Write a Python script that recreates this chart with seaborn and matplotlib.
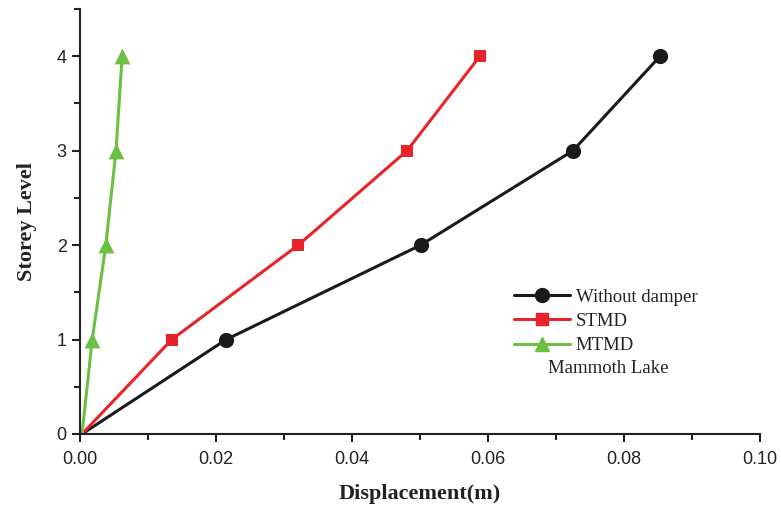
import matplotlib
matplotlib.use("Agg")
from matplotlib import pyplot as plt
from matplotlib.lines import Line2D
from matplotlib.ticker import MultipleLocator
import seaborn as sns
import pandas as pd

storeys = [0, 1, 2, 3, 4]
without_damper = [0.0003, 0.0215, 0.0501, 0.0725, 0.0853]
stmd = [0.0003, 0.0135, 0.0321, 0.0481, 0.0588]
mtmd = [0.0003, 0.0018, 0.0038, 0.0053, 0.0062]
cases = ["Without damper", "STMD", "MTMD"]
colors = {"Without damper": "#1a1a1a", "STMD": "#e8232a", "MTMD": "#6cbf45"}
markers = {"Without damper": "o", "STMD": "s", "MTMD": "^"}
msizes = {"Without damper": 120, "STMD": 80, "MTMD": 130}

rows = []
for name, vals in zip(cases, [without_damper, stmd, mtmd]):
    for s, v in zip(storeys, vals):
        rows.append({"disp": v, "storey": s, "case": name})
df = pd.DataFrame(rows)

sns.set_style("ticks")
fig = plt.figure(figsize=(7.81, 5.08), dpi=100)
ax = fig.add_axes([0.1024, 0.1457, 0.8707, 0.8366])

sns.lineplot(data=df, x="disp", y="storey", hue="case", palette=colors,
             sort=False, lw=2.2, legend=False, ax=ax, estimator=None)
pts = df[df["storey"] > 0]
for name in cases:
    sub = pts[pts["case"] == name]
    sns.scatterplot(data=sub, x="disp", y="storey", color=colors[name],
                    marker=markers[name], s=msizes[name], linewidth=0,
                    legend=False, ax=ax, zorder=3)

ax.set_xlim(0, 0.10)
ax.set_ylim(0, 4.5)
ax.xaxis.set_major_locator(MultipleLocator(0.02))
ax.xaxis.set_minor_locator(MultipleLocator(0.01))
ax.yaxis.set_major_locator(MultipleLocator(1))
ax.yaxis.set_minor_locator(MultipleLocator(0.5))
ax.xaxis.set_major_formatter(matplotlib.ticker.FormatStrFormatter("%.2f"))
ax.tick_params(which="major", length=6, width=1.5, colors="#222222",
               labelsize=13, labelcolor="#222222")
ax.tick_params(which="minor", length=4, width=1.5, colors="#222222")
ax.tick_params(axis="x", pad=6)
for lab in ax.get_xticklabels() + ax.get_yticklabels():
    lab.set_family("Liberation Sans")
for side in ["top", "right"]:
    ax.spines[side].set_visible(False)
for side in ["left", "bottom"]:
    ax.spines[side].set_linewidth(1.5)
    ax.spines[side].set_color("#222222")

ax.set_xlabel("Displacement(m)", family="Liberation Serif", fontweight="bold",
              fontsize=16, color="#222222", labelpad=12)
ax.set_ylabel("Storey Level", family="Liberation Serif", fontweight="bold",
              fontsize=16, color="#222222", labelpad=14)

handles = [Line2D([], [], color=colors[n], marker=markers[n], lw=2.2,
                  markersize=10 if n != "STMD" else 9) for n in cases]
leg = ax.legend(handles, cases, loc="upper left", bbox_to_anchor=(0.627, 0.36),
                frameon=False, handlelength=3.0, handletextpad=0.3,
                labelspacing=0.38, borderaxespad=0,
                prop={"family": "Liberation Serif", "size": 13.5})
for t in leg.get_texts():
    t.set_color("#222222")
ax.text(0.688, 0.155, "Mammoth Lake", transform=ax.transAxes, va="center",
        ha="left", family="Liberation Serif", fontsize=13.5, color="#222222")

fig.savefig("out.png", dpi=100)
